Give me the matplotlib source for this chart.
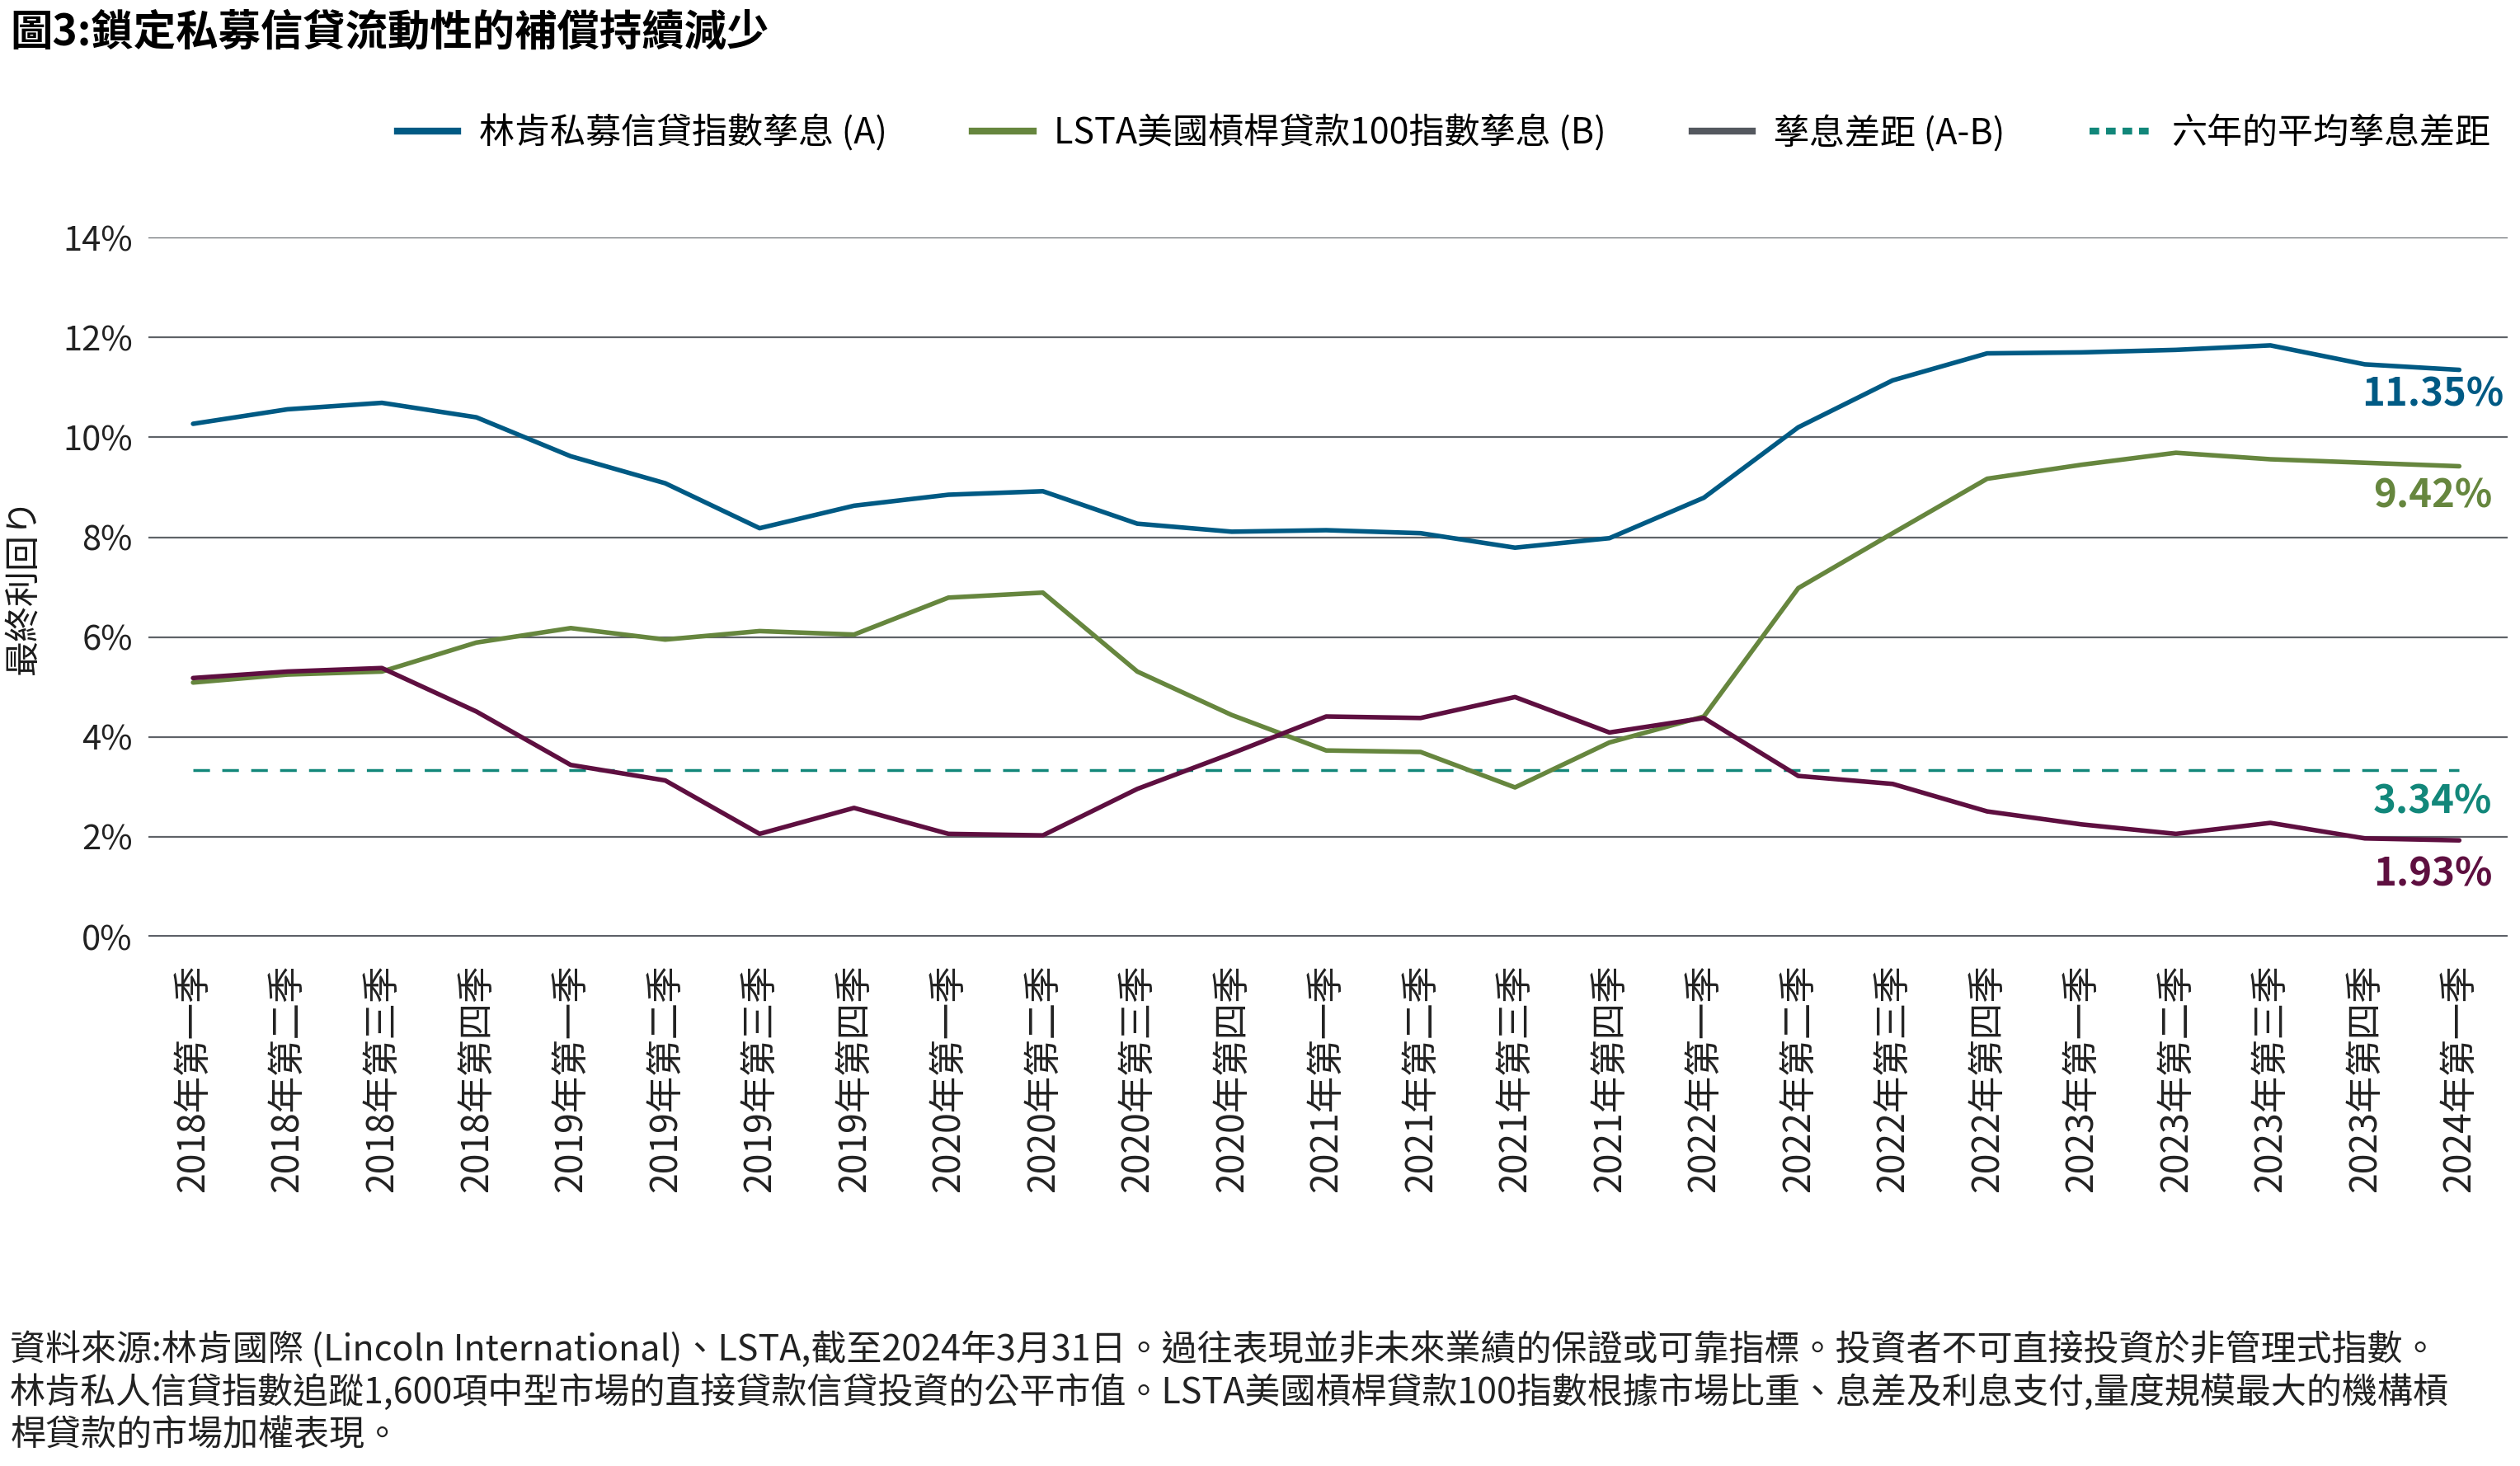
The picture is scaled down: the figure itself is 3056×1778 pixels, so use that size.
import matplotlib
matplotlib.use("Agg")
import matplotlib.pyplot as plt
from matplotlib.lines import Line2D

plt.rcParams['font.family'] = ['Noto Sans CJK TC', 'DejaVu Sans']

quarters = [
    "2018年第一季", "2018年第二季", "2018年第三季", "2018年第四季",
    "2019年第一季", "2019年第二季", "2019年第三季", "2019年第四季",
    "2020年第一季", "2020年第二季", "2020年第三季", "2020年第四季",
    "2021年第一季", "2021年第二季", "2021年第三季", "2021年第四季",
    "2022年第一季", "2022年第二季", "2022年第三季", "2022年第四季",
    "2023年第一季", "2023年第二季", "2023年第三季", "2023年第四季",
    "2024年第一季",
]
lincoln_yield = [10.27, 10.56, 10.69, 10.40, 9.62, 9.08, 8.18, 8.63, 8.85, 8.92,
                 8.27, 8.11, 8.14, 8.08, 7.79, 7.98, 8.79, 10.20, 11.14, 11.68,
                 11.70, 11.75, 11.84, 11.46, 11.35]
lsta_yield = [5.09, 5.25, 5.31, 5.89, 6.18, 5.95, 6.12, 6.05, 6.79, 6.89,
              5.31, 4.44, 3.73, 3.70, 2.99, 3.89, 4.41, 6.98, 8.08, 9.17,
              9.45, 9.69, 9.56, 9.49, 9.42]
spread = [5.18, 5.31, 5.38, 4.51, 3.44, 3.13, 2.06, 2.58, 2.06, 2.03,
          2.96, 3.67, 4.41, 4.38, 4.80, 4.09, 4.38, 3.22, 3.06, 2.51,
          2.25, 2.06, 2.28, 1.97, 1.93]
avg_spread = 3.34

legend_labels = ["林肯私募信貸指數孳息 (A)", "LSTA美國槓桿貸款100指數孳息 (B)",
                 "孳息差距 (A-B)", "六年的平均孳息差距"]
yticks = [0, 2, 4, 6, 8, 10, 12, 14]

title = "圖3:鎖定私募信貸流動性的補償持續減少"
ylabel = "最終利回り"
footnote = ("資料來源:林肯國際 (Lincoln International)、LSTA,截至2024年3月31日。過往表現並非未來業績的保證或可靠指標。投資者不可直接投資於非管理式指數。\n"
            "林肯私人信貸指數追蹤1,600項中型市場的直接貸款信貸投資的公平市值。LSTA美國槓桿貸款100指數根據市場比重、息差及利息支付,量度規模最大的機構槓\n"
            "桿貸款的市場加權表現。")

c_blue = "#005a84"
c_green = "#66863e"
c_purple = "#5e0f40"
c_gray = "#54585f"
c_teal = "#12877a"

fig = plt.figure(figsize=(30.56, 17.78), dpi=100)
ax = fig.add_axes([0.059, 0.361, 0.936, 0.477])

x = list(range(len(quarters)))
ax.plot(x, lincoln_yield, color=c_blue, lw=4, solid_capstyle='round', zorder=4)
ax.plot(x, lsta_yield, color=c_green, lw=4, solid_capstyle='round', zorder=4)
ax.plot(x, spread, color=c_purple, lw=4, solid_capstyle='round', zorder=5)
ax.plot([x[0], x[-1]], [avg_spread, avg_spread], color=c_teal, lw=2.5,
        linestyle=(0, (5.8, 4.3)), zorder=3)

ax.set_ylim(0, 14)
ax.set_xlim(-0.47, 24.51)
ax.set_yticks(yticks)
ax.set_yticklabels([f"{v}%" for v in yticks], fontsize=30, color="#222222")
for v in yticks[1:]:
    ax.axhline(v, color="#5f6368", lw=1.6, zorder=1)
ax.axhline(0, color=c_gray, lw=3.5, zorder=2)
for s in ax.spines.values():
    s.set_visible(False)
ax.tick_params(axis='y', length=0, pad=14)
ax.set_xticks(x)
ax.set_xticklabels(quarters, rotation=90, fontsize=32, color="#222222")
ax.tick_params(axis='x', length=0, pad=24)

fig.text(0.0095, 0.600, ylabel, rotation=90, fontsize=31, ha='center', va='center',
         color="#1a1a1a")

end_labels = [(lincoln_yield[-1], c_blue, -0.50), (lsta_yield[-1], c_green, -0.60),
              (avg_spread, c_teal, -0.64), (spread[-1], c_purple, -0.68)]
for val, col, off in end_labels:
    ax.text(x[-1] - 0.28, val + off, f"{val:.2f}%", color=col, fontsize=34,
            fontweight='bold', ha='center', va='center', zorder=6)

handles = [Line2D([], [], color=c_blue, lw=6),
           Line2D([], [], color=c_green, lw=6),
           Line2D([], [], color=c_gray, lw=6),
           Line2D([], [], color=c_teal, lw=6, linestyle=(0, (1.4, 1.0)))]
fig.legend(handles, legend_labels, loc='center right', bbox_to_anchor=(1.001, 0.909),
           ncol=4, frameon=False, fontsize=31, handlelength=1.7, handletextpad=0.6,
           columnspacing=2.4)

fig.text(0.004, 0.978, title, fontsize=37, fontweight='bold', ha='left', va='center')
fig.text(0.004, 0.050, footnote, fontsize=31, ha='left', va='center', linespacing=1.2,
         color="#222222")

fig.savefig("out.png", dpi=100)
